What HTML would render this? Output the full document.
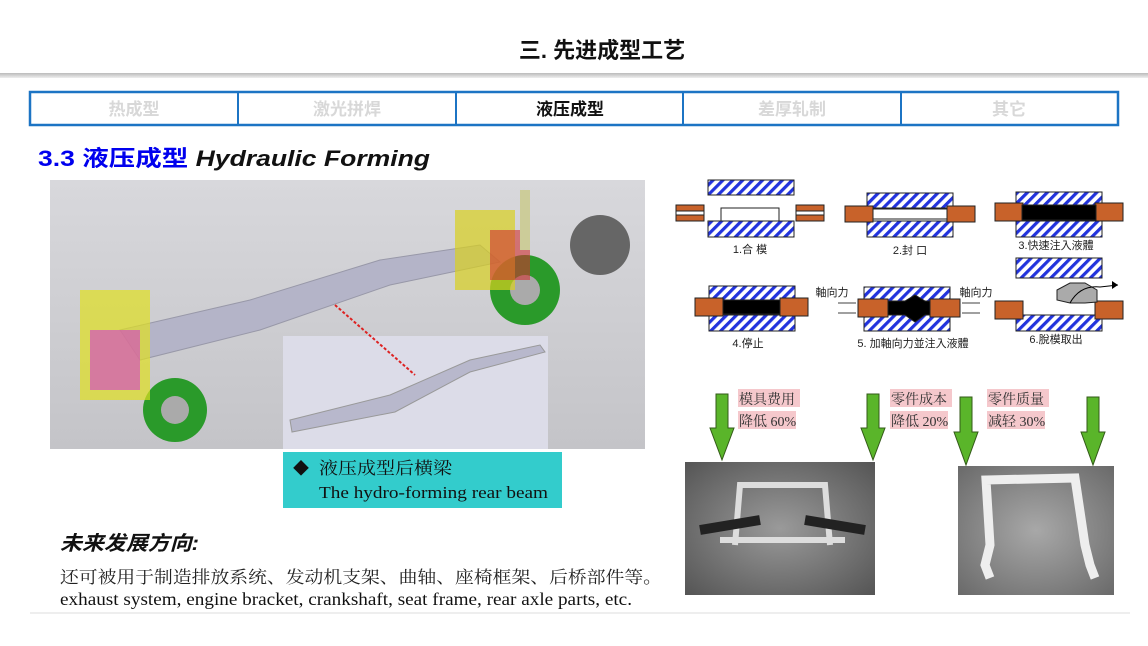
<!DOCTYPE html>
<html><head><meta charset="utf-8"><style>
html,body{margin:0;padding:0;background:#fff;}
body{width:1148px;height:646px;overflow:hidden;position:relative;font-family:"Liberation Sans","Noto Sans CJK SC",sans-serif;}
</style></head><body>
<svg width="1148" height="646" xmlns="http://www.w3.org/2000/svg" style="position:absolute;left:0;top:0">
<defs>
<pattern id="h" width="7" height="7" patternUnits="userSpaceOnUse" patternTransform="rotate(45)"><rect width="7" height="7" fill="#fff"/><rect width="3.2" height="7" fill="#2233dd"/></pattern>
<linearGradient id="gl" x1="0" x2="0" y1="0" y2="1"><stop offset="0" stop-color="#bbb"/><stop offset="1" stop-color="#eee"/></linearGradient>
<linearGradient id="bg3" x1="0" x2="0" y1="0" y2="1"><stop offset="0" stop-color="#d8d8dc"/><stop offset="1" stop-color="#c4c4c8"/></linearGradient>
<radialGradient id="ph" cx="0.5" cy="0.5" r="0.7"><stop offset="0" stop-color="#9a9a9a"/><stop offset="1" stop-color="#555"/></radialGradient>
<radialGradient id="ph2" cx="0.5" cy="0.5" r="0.7"><stop offset="0" stop-color="#a8a8a8"/><stop offset="1" stop-color="#6a6a6a"/></radialGradient>
</defs>
<text x="602" y="58" text-anchor="middle" font-size="22" font-weight="bold" fill="#111">三. 先进成型工艺</text>
<rect x="0" y="73" width="1148" height="5" fill="url(#gl)"/>
<rect x="30" y="92" width="1088" height="33" fill="#fff" stroke="#1c74c4" stroke-width="2.5"/>
<g stroke="#1c74c4" stroke-width="2"><line x1="238" y1="92" x2="238" y2="125"/><line x1="456" y1="92" x2="456" y2="125"/><line x1="683" y1="92" x2="683" y2="125"/><line x1="901" y1="92" x2="901" y2="125"/></g>
<g font-size="17" font-weight="bold" text-anchor="middle" fill="#d8d8d8">
<text x="134" y="115">热成型</text><text x="347" y="115">激光拼焊</text><text x="570" y="115" fill="#111">液压成型</text><text x="792" y="115">差厚轧制</text><text x="1009" y="115">其它</text></g>
<text x="38" y="166" font-size="22" font-weight="bold" textLength="392" lengthAdjust="spacingAndGlyphs"><tspan fill="#0000ee">3.3 液压成型 </tspan><tspan fill="#111" font-style="italic">Hydraulic Forming</tspan></text>
<rect x="50" y="180" width="595" height="269" fill="url(#bg3)"/>
<rect x="283" y="336" width="265" height="113" fill="#dcdce8"/>
<path d="M290 420 L390 395 L470 360 L540 345 L545 352 L470 372 L395 412 L292 432Z" fill="#b8b8cc" stroke="#999"/>
<path d="M120 330 L250 300 L380 260 L480 245 L500 262 L390 285 L260 330 L140 360Z" fill="#b4b4c8" stroke="#9898a8"/>
<line x1="335" y1="305" x2="415" y2="375" stroke="#d22" stroke-width="2" stroke-dasharray="3,2"/>
<circle cx="175" cy="410" r="32" fill="#2a9a2a"/><circle cx="175" cy="410" r="14" fill="#aaa"/>
<circle cx="525" cy="290" r="35" fill="#2a9a2a"/><circle cx="525" cy="290" r="15" fill="#aaa"/>
<circle cx="600" cy="245" r="30" fill="#666"/>
<rect x="80" y="290" width="70" height="110" fill="#e0e020" opacity="0.7"/>
<rect x="90" y="330" width="50" height="60" fill="#d23ad2" opacity="0.6"/>
<rect x="455" y="210" width="60" height="80" fill="#d8d020" opacity="0.7"/>
<rect x="490" y="230" width="40" height="50" fill="#d03030" opacity="0.6"/>
<rect x="520" y="190" width="10" height="60" fill="#cc9"/>
<rect x="283" y="452" width="279" height="56" fill="#33cccc"/>
<text x="293" y="474" font-size="16" fill="#111" font-family="Liberation Serif,Noto Serif CJK SC,serif">◆</text>
<text x="319" y="474" font-size="17" fill="#111" font-family="Liberation Serif,Noto Serif CJK SC,serif" textLength="133" lengthAdjust="spacingAndGlyphs">液压成型后横梁</text>
<text x="319" y="498" font-size="17" fill="#111" font-family="Liberation Serif,serif" textLength="229" lengthAdjust="spacingAndGlyphs">The hydro-forming rear beam</text>
<text x="60" y="550" font-size="20" font-weight="bold" font-style="italic" fill="#111" textLength="139" lengthAdjust="spacingAndGlyphs">未来发展方向:</text>
<text x="60" y="583" font-size="17" fill="#222" font-family="Liberation Serif,Noto Serif CJK SC,serif" textLength="602" lengthAdjust="spacingAndGlyphs">还可被用于制造排放系统、发动机支架、曲轴、座椅框架、后桥部件等。</text>
<text x="60" y="605" font-size="18" fill="#111" font-family="Liberation Serif,serif" textLength="572" lengthAdjust="spacingAndGlyphs">exhaust system, engine bracket, crankshaft, seat frame, rear axle parts, etc.</text>
<rect x="30" y="612" width="1100" height="2" fill="#eee"/>
<g stroke="#222" stroke-width="1">
<rect x="708" y="180" width="86" height="15" fill="url(#h)"/>
<rect x="708" y="221" width="86" height="16" fill="url(#h)"/>
<rect x="721" y="208" width="58" height="13" fill="#fff"/>
<rect x="676" y="205" width="28" height="16" fill="#c8622a"/><rect x="676" y="211" width="28" height="4" fill="#fff"/>
<rect x="796" y="205" width="28" height="16" fill="#c8622a"/><rect x="796" y="211" width="28" height="4" fill="#fff"/>
<rect x="867" y="193" width="86" height="15" fill="url(#h)"/>
<rect x="867" y="221" width="86" height="16" fill="url(#h)"/>
<rect x="845" y="206" width="28" height="16" fill="#c8622a"/><rect x="947" y="206" width="28" height="16" fill="#c8622a"/>
<rect x="873" y="209" width="74" height="10" fill="#fff"/>
<rect x="1016" y="192" width="86" height="15" fill="url(#h)"/>
<rect x="1016" y="221" width="86" height="16" fill="url(#h)"/>
<rect x="995" y="203" width="28" height="18" fill="#c8622a"/><rect x="1095" y="203" width="28" height="18" fill="#c8622a"/>
<rect x="1022" y="205" width="74" height="15" fill="#000"/>
<rect x="709" y="286" width="86" height="15" fill="url(#h)"/>
<rect x="709" y="315" width="86" height="16" fill="url(#h)"/>
<rect x="695" y="298" width="28" height="18" fill="#c8622a"/><rect x="780" y="298" width="28" height="18" fill="#c8622a"/>
<rect x="723" y="300" width="57" height="14" fill="#000"/>
<rect x="864" y="287" width="86" height="15" fill="url(#h)"/>
<rect x="864" y="315" width="86" height="16" fill="url(#h)"/>
<rect x="858" y="299" width="30" height="18" fill="#c8622a"/><rect x="930" y="299" width="30" height="18" fill="#c8622a"/>
<path d="M888 301 L905 301 L915 295 L925 301 L930 301 L930 315 L925 315 L915 322 L905 315 L888 315Z" fill="#000"/>
<rect x="1016" y="258" width="86" height="20" fill="url(#h)"/>
<rect x="1016" y="315" width="86" height="16" fill="url(#h)"/>
<rect x="995" y="301" width="28" height="18" fill="#c8622a"/><rect x="1095" y="301" width="28" height="18" fill="#c8622a"/>
<path d="M1057 290 L1070 283 L1085 283 L1097 290 L1097 302 L1085 303 L1070 303 L1057 300Z" fill="#aaa"/>
</g>
<path d="M1070 303 Q1080 285 1100 287 L1118 285" stroke="#000" fill="none"/><path d="M1112 281 L1118 285 L1112 289" fill="#000"/>
<g stroke="#000" stroke-width="0.8"><line x1="838" y1="303" x2="856" y2="303"/><line x1="838" y1="313" x2="856" y2="313"/><line x1="962" y1="303" x2="980" y2="303"/><line x1="962" y1="313" x2="980" y2="313"/></g>
<g font-size="11" fill="#222" text-anchor="middle" font-family="Liberation Sans,Noto Sans CJK TC,sans-serif">
<text x="750" y="253">1.合  模</text><text x="910" y="254">2.封  口</text><text x="1056" y="249">3.快速注入液體</text>
<text x="748" y="347">4.停止</text><text x="913" y="347">5. 加軸向力並注入液體</text><text x="1056" y="343">6.脫模取出</text>
<text x="832" y="296">軸向力</text><text x="976" y="296">軸向力</text></g>
<rect x="685" y="462" width="190" height="133" fill="url(#ph)"/>
<path d="M735 545 L740 485 L825 485 L830 545 M720 540 L845 540" stroke="#ddd" stroke-width="6" fill="none"/>
<path d="M700 530 L760 520 M805 520 L865 530" stroke="#222" stroke-width="10"/>
<rect x="958" y="466" width="156" height="129" fill="url(#ph2)"/>
<path d="M990 578 L985 565 L990 545 L986 480 L1075 478 L1085 545 L1090 565 L1095 578" stroke="#eee" stroke-width="9" fill="none"/>
<g fill="#5ab52a" stroke="#335a18" stroke-width="1">
<path d="M716 394 L728 394 L728 428 L734 428 L722 460 L710 428 L716 428Z"/>
<path d="M867 394 L879 394 L879 428 L885 428 L873 460 L861 428 L867 428Z"/>
<path d="M960 397 L972 397 L972 432 L978 432 L966 465 L954 432 L960 432Z"/>
<path d="M1087 397 L1099 397 L1099 432 L1105 432 L1093 465 L1081 432 L1087 432Z"/>
</g>
<g fill="#f5c8cc"><rect x="738" y="389" width="62" height="18"/><rect x="738" y="411" width="58" height="18"/>
<rect x="890" y="389" width="62" height="18"/><rect x="890" y="411" width="58" height="18"/>
<rect x="987" y="389" width="62" height="18"/><rect x="987" y="411" width="58" height="18"/></g>
<g font-size="14" fill="#333" font-family="Liberation Serif,Noto Serif CJK SC,serif">
<text x="739" y="404">模具费用</text><text x="739" y="426">降低 60%</text>
<text x="891" y="404">零件成本</text><text x="891" y="426">降低 20%</text>
<text x="988" y="404">零件质量</text><text x="988" y="426">减轻 30%</text></g>
</svg>
</body></html>
